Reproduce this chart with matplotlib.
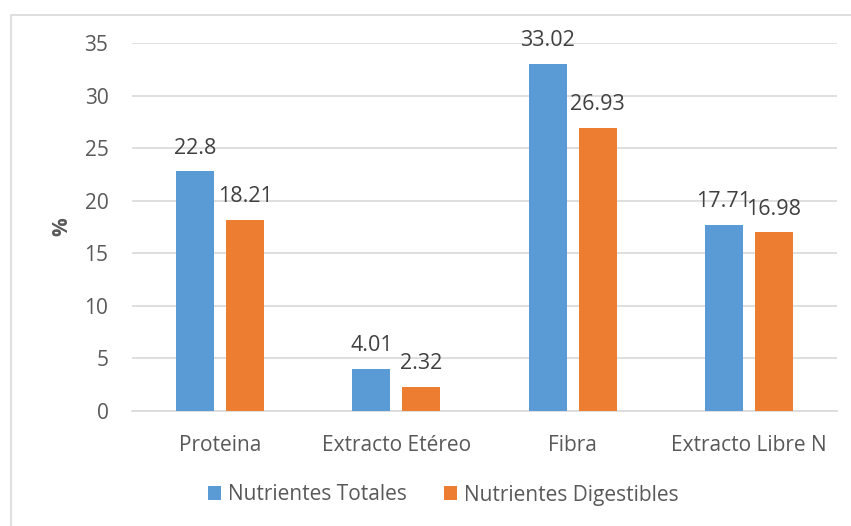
import numpy as np
import matplotlib.pyplot as plt
from matplotlib.patches import Rectangle

# Datos
categorias = ['Proteina', 'Extracto Etéreo', 'Fibra', 'Extracto Libre N']
totales = [22.8, 4.01, 33.02, 17.71]
digestibles = [18.21, 2.32, 26.93, 16.98]
etiquetas_totales = ['22.8', '4.01', '33.02', '17.71']
etiquetas_digestibles = ['18.21', '2.32', '26.93', '16.98']

AZUL = '#5B9BD5'
NARANJA = '#ED7D31'
TEXTO = '#595959'
ETIQ = '#404040'

plt.rcParams['font.family'] = ['Open Sans', 'DejaVu Sans']

fig = plt.figure(figsize=(8.51, 5.26), dpi=100)
ax = fig.add_axes([132 / 851, 1 - 411 / 526, (837 - 132) / 851, (411 - 43) / 526])

# marco del grafico
fig.patches.append(Rectangle((11 / 851, -0.1), 1.2, 1 - 15 / 526 + 0.1,
                             transform=fig.transFigure, fill=False,
                             edgecolor='#D9D9D9', linewidth=1.2))

x = np.arange(len(categorias))
ancho = 0.216
desp = 0.142

b1 = ax.bar(x - desp, totales, ancho, color=AZUL, label='Nutrientes Totales', zorder=3)
b2 = ax.bar(x + desp, digestibles, ancho, color=NARANJA, label='Nutrientes Digestibles', zorder=3)

for barras, etiquetas in [(b1, etiquetas_totales), (b2, etiquetas_digestibles)]:
    for rect, txt in zip(barras, etiquetas):
        ax.annotate(txt, (rect.get_x() + rect.get_width() / 2, rect.get_height()),
                    xytext=(0, 9), textcoords='offset points',
                    ha='center', va='bottom', fontsize=15.5, color=ETIQ, zorder=4)

ax.set_xlim(-0.5, 3.5)
ax.set_ylim(0, 35)
ax.set_yticks(range(0, 36, 5))
ax.set_xticks(x)
ax.set_xticklabels(categorias)
ax.yaxis.grid(True, color='#D9D9D9', linewidth=1.2, zorder=0)
ax.set_axisbelow(True)
for lado in ['top', 'right', 'left']:
    ax.spines[lado].set_visible(False)
ax.spines['bottom'].set_color('#D9D9D9')
ax.spines['bottom'].set_linewidth(1.2)
ax.tick_params(axis='both', length=0, labelcolor=TEXTO)
ax.tick_params(axis='y', labelsize=15, pad=17)
ax.tick_params(axis='x', labelsize=15, pad=17)

fig.text(62 / 851, 1 - 227 / 526, '%', rotation=90, ha='center', va='center',
         fontsize=15, fontweight='bold', color=TEXTO)

ax.legend(loc='center', bbox_to_anchor=(443 / 851, 1 - 495 / 526),
          bbox_transform=fig.transFigure, ncol=2, frameon=False,
          fontsize=15, labelcolor=TEXTO, handlelength=0.65, handleheight=0.65,
          handletextpad=0.3, columnspacing=1.8)

fig.savefig('out.png', dpi=100)
